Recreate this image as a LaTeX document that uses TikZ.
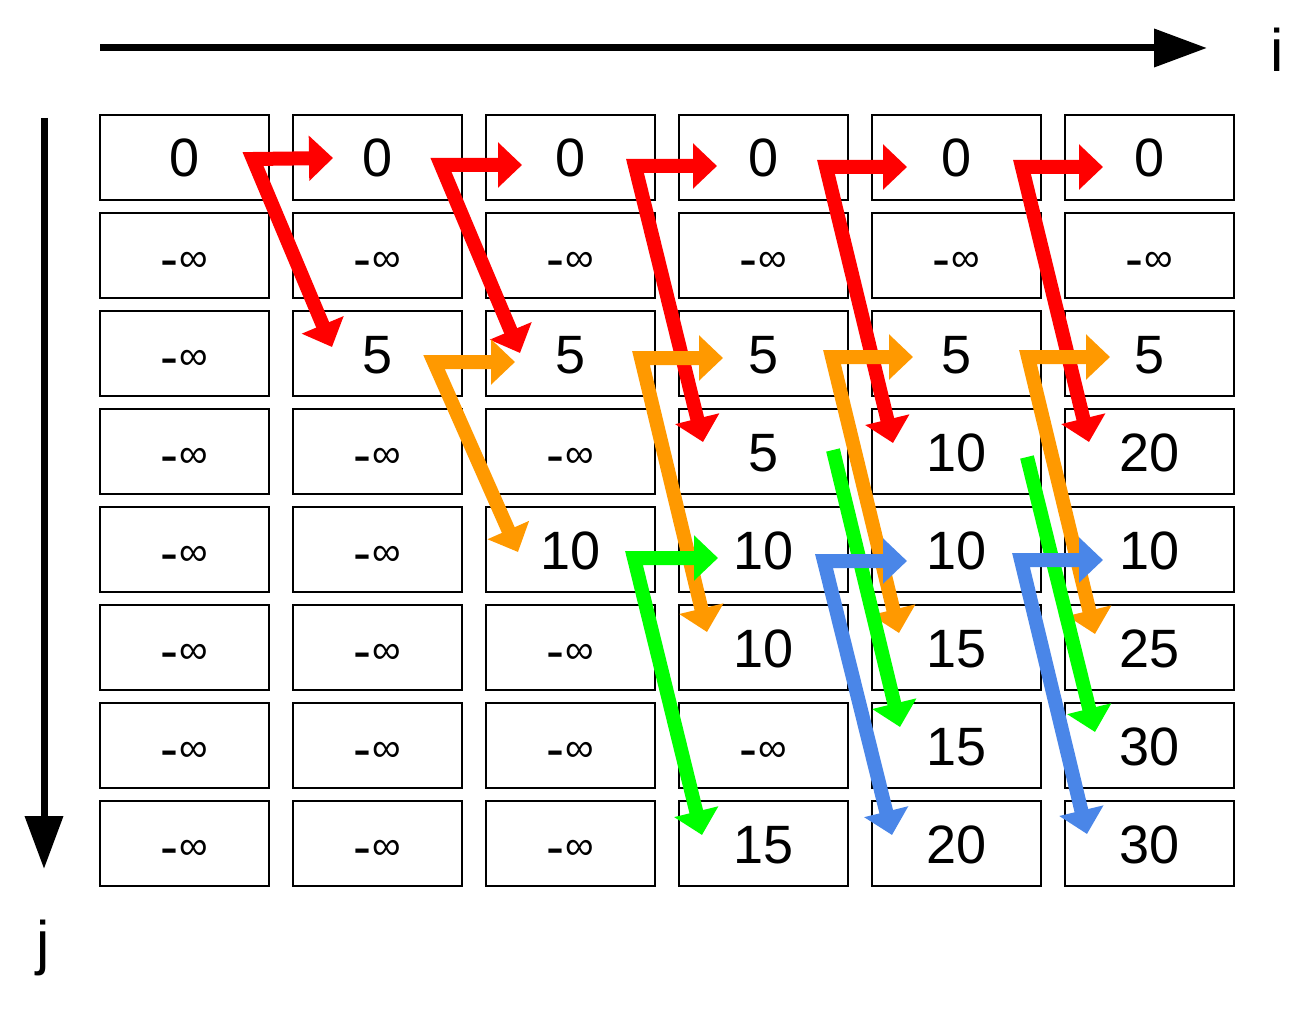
\documentclass[tikz,border=0pt]{standalone}
\usepackage{fontspec}
\setmainfont{Liberation Sans}
\usetikzlibrary{arrows.meta}
\definecolor{cred}{HTML}{FF0000}
\definecolor{corange}{HTML}{FF9900}
\definecolor{cgreen}{HTML}{00FF00}
\definecolor{cblue}{HTML}{4A86E8}
\newcommand{\ninf}{\raisebox{-2pt}{-}\hspace{1pt}\raisebox{4pt}{\fontsize{40}{44}\selectfont ∞}}
\begin{document}
\begin{tikzpicture}[x=1pt,y=-1pt,
  cell/.style={draw=black,line width=1.5pt,minimum width=169pt,minimum height=85pt,inner sep=0pt,
    text height=39pt,text depth=0pt,font=\fontsize{54}{60}\selectfont},
  axis/.style={line width=7pt,-{Triangle[length=53pt,width=37pt]}},
  axlabel/.style={font=\fontsize{60}{66}\selectfont,inner sep=0pt},
  flow/.style={line width=14pt,line join=miter,{Triangle[length=24pt,width=44pt]}-{Triangle[length=24pt,width=44pt]}},
  flowone/.style={line width=14pt,-{Triangle[length=24pt,width=44pt]}}]
\useasboundingbox (0,0) rectangle (1315,1014);
% axes
\coordinate (ia) at (100,48);
\coordinate (ib) at (1207,48);
\coordinate (ja) at (44,118);
\coordinate (jb) at (44,869);
\draw[axis] (ia) -- (ib);
\draw[axis] (ja) -- (jb);
\node[axlabel] (li) at (1277,50) {i};
\node[axlabel] (lj) at (43,948) {j};
% cells
\foreach \r/\row in {0/{0,0,0,0,0,0},
                     1/{\ninf,\ninf,\ninf,\ninf,\ninf,\ninf},
                     2/{\ninf,5,5,5,5,5},
                     3/{\ninf,\ninf,\ninf,5,10,20},
                     4/{\ninf,\ninf,10,10,10,10},
                     5/{\ninf,\ninf,\ninf,10,15,25},
                     6/{\ninf,\ninf,\ninf,\ninf,15,30},
                     7/{\ninf,\ninf,\ninf,15,20,30}}{
  \foreach \v [count=\c from 0] in \row {
    \node[cell] (c-\r-\c) at (184.5+193*\c,157.5+98*\r) {\v};
  }
}
% red
\foreach \n/\cx/\cy/\rx/\ry/\dx/\dy in {1/253/159/333/158/332/347,
    2/441/165/522/165/520/353,
    3/635/166/717/166/703/442,
    4/826/167/907/167/893/443,
    5/1022/167/1103/167/1089/442}{
  \coordinate (rc\n) at (\cx,\cy);
  \coordinate (rr\n) at (\rx,\ry);
  \coordinate (rd\n) at (\dx,\dy);
  \draw[flow,cred] (rr\n) -- (rc\n) -- (rd\n);
}
% orange
\foreach \n/\cx/\cy/\rx/\ry/\dx/\dy in {1/434/362/515/362/518/552,
    2/641/358/723/358/707/632,
    3/832/357/913/357/899/633,
    4/1028/357/1110/357/1095/634}{
  \coordinate (oc\n) at (\cx,\cy);
  \coordinate (or\n) at (\rx,\ry);
  \coordinate (od\n) at (\dx,\dy);
  \draw[flow,corange] (or\n) -- (oc\n) -- (od\n);
}
% green
\coordinate (gc1) at (634,558);
\coordinate (gr1) at (718,558);
\coordinate (gd1) at (702,835);
\draw[flow,cgreen] (gr1) -- (gc1) -- (gd1);
\coordinate (gs2) at (833,450);
\coordinate (gd2) at (900,727);
\draw[flowone,cgreen] (gs2) -- (gd2);
\coordinate (gs3) at (1027,457);
\coordinate (gd3) at (1095,732);
\draw[flowone,cgreen] (gs3) -- (gd3);
% blue
\foreach \n/\cx/\cy/\rx/\ry/\dx/\dy in {1/824/561/907/561/892/835,
    2/1021/560/1103/560/1087/834}{
  \coordinate (bc\n) at (\cx,\cy);
  \coordinate (br\n) at (\rx,\ry);
  \coordinate (bd\n) at (\dx,\dy);
  \draw[flow,cblue] (br\n) -- (bc\n) -- (bd\n);
}
\end{tikzpicture}
\end{document}
